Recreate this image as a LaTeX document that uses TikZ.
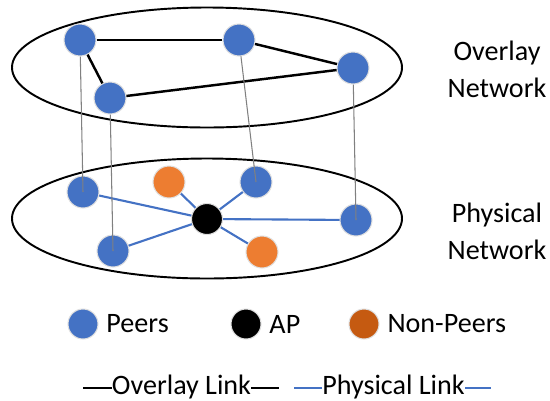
\documentclass[tikz,border=0pt]{standalone}
\usepackage{fontspec}
\setmainfont{Carlito}
\usepackage{xcolor}
\usetikzlibrary{positioning}
\definecolor{peerblue}{HTML}{4472C4}
\definecolor{nporange}{HTML}{ED7D31}
\definecolor{nplegend}{HTML}{C55A11}

\begin{document}
\begin{tikzpicture}[
    x=0.02cm, y=-0.02cm,
    every node/.style={font=\fontsize{16}{21}\selectfont},
    dot/.style={circle, minimum size=32*0.02cm, inner sep=0pt, draw=gray!25, line width=0.6pt},
    peer/.style={dot, fill=peerblue},
    nonpeer/.style={dot, fill=nporange},
    ap/.style={dot, fill=black, minimum size=31*0.02cm},
    ovlink/.style={black, line width=1.4pt},
    phlink/.style={peerblue, line width=1.2pt},
    vlink/.style={gray, line width=0.6pt},
]
\useasboundingbox (0,0) rectangle (550,400);
% the two network planes
\draw[line width=1.1pt] (207,67.5) ellipse [x radius=195, y radius=60];
\draw[line width=1.1pt] (207,218.5) ellipse [x radius=195, y radius=60];
\node[align=center] (ovlabel) at (497,69) {Overlay\\Network};
\node[align=center] (phlabel) at (497,231) {Physical\\Network};
% overlay peers
\node[peer] (o1) at (80,40) {};
\node[peer] (o2) at (239,40) {};
\node[peer] (o3) at (353,68) {};
\node[peer] (o4) at (110,98) {};
\draw[ovlink] (o1) -- (o2);
\draw[ovlink] (o2) -- (o3);
\draw[ovlink] (o3) -- (o4);
\draw[ovlink] (o1) -- (o4);
% physical network: links first, then the nodes on top
\coordinate (apc) at (207,219);
\foreach \p/\q in {83/192, 113/251, 169/182, 256/182, 356/220, 262/252} {
   \draw[phlink] (apc) -- (\p,\q);
}
\node[ap] (ap) at (apc) {};
\node[peer] (p1) at (83,192) {};
\node[peer] (p2) at (113,251) {};
\node[nonpeer] (n1) at (169,182) {};
\node[peer] (p3) at (256,182) {};
\node[peer] (p4) at (356,220) {};
\node[nonpeer] (n2) at (262,252) {};
% each overlay peer sits on a physical peer
\draw[vlink] (o1) -- (p1.center);
\draw[vlink] (o4) -- (p2.center);
\draw[vlink] (o2) -- (p3.center);
\draw[vlink] (o3) -- (p4.center);
% legend: node kinds
\node[peer, minimum size=30*0.02cm] (lgpeer) at (83,324) {};
\node[right=1pt of lgpeer] (lgpeertxt) {Peers};
\node[ap, minimum size=30*0.02cm] (lgap) at (246,324) {};
\node[right=1pt of lgap] (lgaptxt) {AP};
\node[dot, fill=nplegend, minimum size=30*0.02cm] (lgnp) at (364,324) {};
\node[right=1pt of lgnp] (lgnptxt) {Non-Peers};
% legend: link kinds
\node[inner sep=0pt] (lgov) at (181.5,387) {Overlay Link};
\coordinate (lgova) at (83,388);
\coordinate (lgovb) at (279,388);
\draw[ovlink, line width=1.1pt] (lgova) -- (lgov.west |- lgova);
\draw[ovlink, line width=1.1pt] (lgov.east |- lgovb) -- (lgovb);
\node[inner sep=0pt] (lgph) at (393.5,387) {Physical Link};
\coordinate (lgpha) at (294,388);
\coordinate (lgphb) at (491,388);
\draw[phlink, line width=1pt] (lgpha) -- (lgph.west |- lgpha);
\draw[phlink, line width=1pt] (lgph.east |- lgphb) -- (lgphb);
\end{tikzpicture}
\end{document}
